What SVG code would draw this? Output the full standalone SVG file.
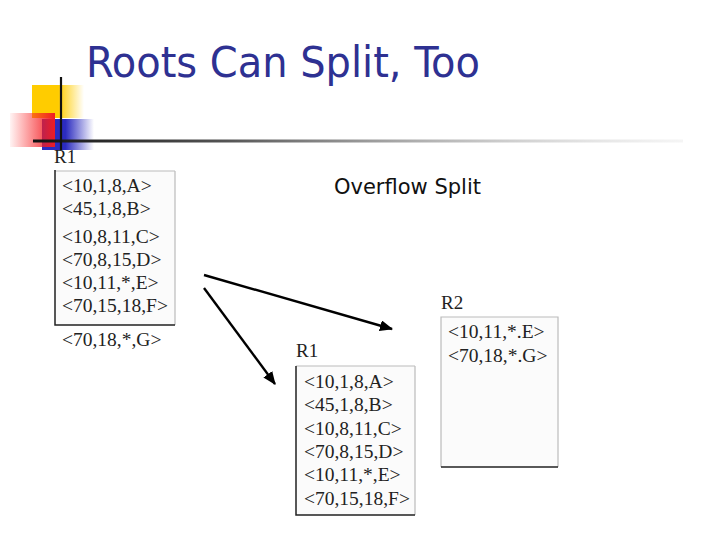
<svg xmlns="http://www.w3.org/2000/svg" width="720" height="540" viewBox="0 0 720 540">
<defs>
  <linearGradient id="gY" x1="0" y1="0" x2="1" y2="0">
    <stop offset="0" stop-color="#ffcc00"/>
    <stop offset="0.5" stop-color="#ffcc00"/>
    <stop offset="1" stop-color="#ffcc00" stop-opacity="0"/>
  </linearGradient>
  <linearGradient id="gR" x1="0" y1="0" x2="1" y2="0">
    <stop offset="0" stop-color="#ff2020" stop-opacity="0.05"/>
    <stop offset="1" stop-color="#ee1c24"/>
  </linearGradient>
  <linearGradient id="gB" x1="0" y1="0" x2="1" y2="0">
    <stop offset="0" stop-color="#2b2bbf"/>
    <stop offset="0.45" stop-color="#2b2bbf"/>
    <stop offset="1" stop-color="#2b2bbf" stop-opacity="0"/>
  </linearGradient>
  <linearGradient id="gL" x1="0" y1="0" x2="1" y2="0">
    <stop offset="0" stop-color="#111"/>
    <stop offset="0.3" stop-color="#555"/>
    <stop offset="1" stop-color="#ddd" stop-opacity="0.3"/>
  </linearGradient>
  <marker id="ah" viewBox="0 0 12 10" refX="11" refY="5" markerWidth="5.5" markerHeight="4.6" orient="auto" markerUnits="strokeWidth">
    <path d="M0,0 L12,5 L0,10 z" fill="#000"/>
  </marker>
  <style>
    .e { font-family: "Liberation Serif", "Times New Roman", serif; font-size: 19.5px; fill: #222; }
    .lbl { font-family: "Liberation Serif", "Times New Roman", serif; font-size: 19px; fill: #222; }
    .box { fill: #fbfbfb; stroke: none; }
    .dk { stroke: #222; stroke-width: 1.5; fill: none; }
    .lt { stroke: #bbb; stroke-width: 1.2; fill: none; }
    .conn { stroke: #000; stroke-width: 2.4; fill: none; marker-end: url(#ah); }
  </style>
</defs>
<rect width="720" height="540" fill="#fff"/>

<g id="decor">
  <rect x="32" y="85" width="52" height="33" fill="url(#gY)"/>
  <rect x="42" y="119" width="52" height="31" fill="url(#gB)"/>
  <rect x="10" y="113" width="45" height="34" fill="url(#gR)"/>
  <rect x="33" y="139.5" width="650" height="3" fill="url(#gL)"/>
  <line x1="61" y1="77" x2="61" y2="150" stroke="#111" stroke-width="2.2"/>
</g>

<text id="title" x="86" y="77" font-family="'DejaVu Sans Condensed', 'DejaVu Sans', sans-serif" font-size="43" fill="#2e3192" textLength="394" lengthAdjust="spacingAndGlyphs">Roots Can Split, Too</text>

<text id="overflow" x="334" y="194" font-family="'DejaVu Sans Condensed', 'DejaVu Sans', sans-serif" font-size="21" fill="#111" textLength="147" lengthAdjust="spacingAndGlyphs">Overflow Split</text>

<g id="r1-left">
  <rect class="box" x="55" y="171" width="120" height="154"/>
  <line class="lt" x1="55" y1="171" x2="175" y2="171"/>
  <line class="lt" x1="175" y1="171" x2="175" y2="325"/>
  <polyline class="dk" points="55,170 55,325 175,325"/>
  <text class="lbl" x="54" y="163">R1</text>
  <text class="e" x="62" y="192">&lt;10,1,8,A&gt;</text>
  <text class="e" x="62" y="215">&lt;45,1,8,B&gt;</text>
  <text class="e" x="62" y="243">&lt;10,8,11,C&gt;</text>
  <text class="e" x="62" y="266">&lt;70,8,15,D&gt;</text>
  <text class="e" x="62" y="289">&lt;10,11,*,E&gt;</text>
  <text class="e" x="62" y="312">&lt;70,15,18,F&gt;</text>
  <text class="e" x="62" y="346">&lt;70,18,*,G&gt;</text>
</g>

<g id="r1-right">
  <rect class="box" x="296" y="366" width="119" height="149"/>
  <line class="lt" x1="296" y1="366" x2="415" y2="366"/>
  <line class="lt" x1="415" y1="366" x2="415" y2="515"/>
  <polyline class="dk" points="296,366 296,515 415,515"/>
  <text class="lbl" x="296" y="357">R1</text>
  <text class="e" x="304" y="388">&lt;10,1,8,A&gt;</text>
  <text class="e" x="304" y="411">&lt;45,1,8,B&gt;</text>
  <text class="e" x="304" y="435">&lt;10,8,11,C&gt;</text>
  <text class="e" x="304" y="458">&lt;70,8,15,D&gt;</text>
  <text class="e" x="304" y="481">&lt;10,11,*,E&gt;</text>
  <text class="e" x="304" y="505">&lt;70,15,18,F&gt;</text>
</g>

<g id="r2">
  <rect class="box" x="441" y="317" width="117" height="150"/>
  <polyline class="lt" points="441,467 441,317 558,317 558,467"/>
  <line class="dk" x1="441" y1="467" x2="558" y2="467"/>
  <text class="lbl" x="441" y="309">R2</text>
  <text class="e" x="448" y="338">&lt;10,11,*.E&gt;</text>
  <text class="e" x="448" y="362">&lt;70,18,*.G&gt;</text>
</g>

<g id="connectors">
  <line class="conn" x1="204" y1="275" x2="392" y2="329"/>
  <line class="conn" x1="204" y1="288" x2="275" y2="384"/>
</g>
</svg>
